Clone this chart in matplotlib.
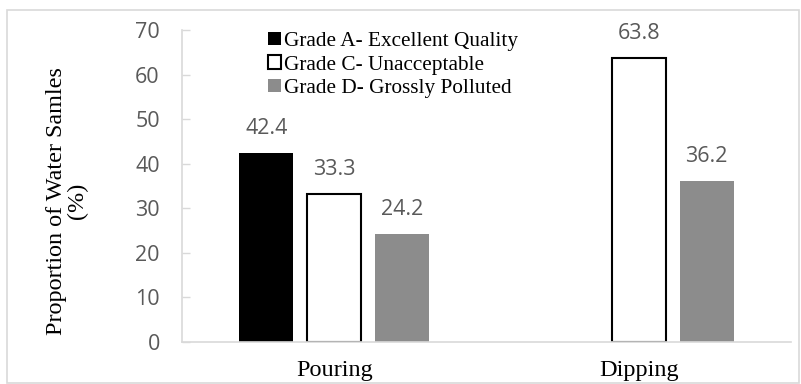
import matplotlib
matplotlib.use("Agg")
import matplotlib.pyplot as plt
from matplotlib.patches import Rectangle, Patch
import numpy as np

categories = ["Pouring", "Dipping"]
series_names = ["Grade A- Excellent Quality", "Grade C- Unacceptable", "Grade D- Grossly Polluted"]
grade_a = [42.4, 0.0]
grade_c = [33.3, 63.8]
grade_d = [24.2, 36.2]
yticks = [0, 10, 20, 30, 40, 50, 60, 70]

W, H = 801, 384
fig = plt.figure(figsize=(W / 100, H / 100), dpi=100)
fig.patch.set_facecolor("white")

ax = fig.add_axes([182 / W, 1 - 342 / H, (791 - 182) / W, (342 - 30) / H])

serif = ["Liberation Serif", "DejaVu Serif"]
sans = ["Open Sans", "DejaVu Sans"]
grid_col = "#D9D9D9"
lab_col = "#595959"

x = np.arange(len(categories))
bw = 0.1773
off = 0.2233
styles = [
    dict(facecolor="black", edgecolor="black", linewidth=0),
    dict(facecolor="white", edgecolor="black", linewidth=1.5),
    dict(facecolor="#8C8C8C", edgecolor="#8C8C8C", linewidth=0),
]
series = [grade_a, grade_c, grade_d]
for i, (vals, st) in enumerate(zip(series, styles)):
    xs = x + (i - 1) * off
    ax.bar(xs, vals, width=bw, zorder=2, **st)
    for xi, v in zip(xs, vals):
        if v > 0:
            ax.annotate(f"{v:.1f}", (xi, v), xytext=(0, 13.7), textcoords="offset points",
                        ha="center", va="baseline", fontsize=15.5, color=lab_col,
                        family=sans)

ax.set_xlim(-0.5, 1.5)
ax.set_ylim(0, 70)
ax.set_yticks(yticks)
ax.set_yticklabels([str(t) for t in yticks], family=sans, fontsize=15.5, color=lab_col)
ax.set_xticks(x)
ax.set_xticklabels(categories, family=serif, fontsize=17.5, color="black")
ax.tick_params(axis="y", direction="in", length=6, width=1, color=grid_col, pad=16)
ax.tick_params(axis="x", length=0, pad=13)
for s in ["top", "right"]:
    ax.spines[s].set_visible(False)
for s in ["left", "bottom"]:
    ax.spines[s].set_color(grid_col)
    ax.spines[s].set_linewidth(1.2)
ax.spines["bottom"].set_zorder(3)

fig.text(67 / W, 1 - 201 / H, "Proportion of Water Samles\n(%)", rotation=90,
         ha="center", va="center", multialignment="center", fontsize=17.4,
         family=serif, linespacing=1.0)

handles = [
    Patch(facecolor="black", edgecolor="black", linewidth=0),
    Patch(facecolor="white", edgecolor="black", linewidth=1.5),
    Patch(facecolor="#8C8C8C", edgecolor="#8C8C8C", linewidth=0),
]
leg = fig.legend(handles, series_names, loc="upper left",
                 bbox_to_anchor=(268 / W, 1 - 32 / H), frameon=False,
                 prop={"family": serif, "size": 15.3}, handlelength=0.6,
                 handleheight=0.6, handletextpad=0.15, labelspacing=0.2,
                 borderpad=0, borderaxespad=0)

fig.patches.append(Rectangle((7 / W, 1 - 383 / H), (799 - 7) / W, (383 - 10) / H,
                             transform=fig.transFigure, fill=False,
                             edgecolor=grid_col, linewidth=1.2))

fig.savefig("out.png", dpi=100)
